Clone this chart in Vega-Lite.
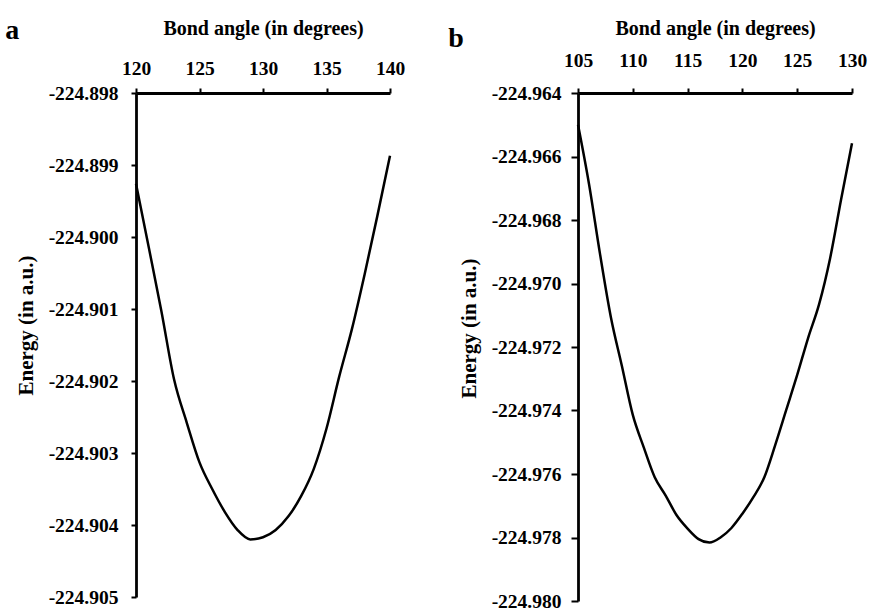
{
  "$schema": "https://vega.github.io/schema/vega-lite/v6.json",
  "background": "white",
  "padding": {"left": 5, "top": 17, "right": 5, "bottom": 0},
  "spacing": 43,
  "config": {
    "view": {"stroke": null},
    "font": "Liberation Serif",
    "axis": {
      "grid": false,
      "domainColor": "black",
      "domainWidth": 2.8,
      "tickColor": "black",
      "tickWidth": 2,
      "tickSize": 6,
      "labelFlush": false,
      "labelOverlap": false,
      "labelFont": "Liberation Serif",
      "labelFontWeight": "bold",
      "labelFontSize": 19.5,
      "labelColor": "black",
      "titleFont": "Liberation Serif",
      "titleFontWeight": "bold",
      "titleFontSize": 20,
      "titleColor": "black"
    },
    "title": {"font": "Liberation Serif", "fontSize": 28, "fontWeight": "bold", "color": "black"}
  },
  "hconcat": [
    {
      "title": {"text": "a", "anchor": "start", "frame": "bounds", "offset": -27, "dx": -10},
      "width": 254,
      "height": 504,
      "data": {"values": [
        {"angle": 120, "energy": -224.89926},
        {"angle": 121, "energy": -224.90014},
        {"angle": 122, "energy": -224.90103},
        {"angle": 123, "energy": -224.90198},
        {"angle": 124, "energy": -224.90258},
        {"angle": 125, "energy": -224.90313},
        {"angle": 126, "energy": -224.9035},
        {"angle": 127, "energy": -224.90382},
        {"angle": 128, "energy": -224.90407},
        {"angle": 129, "energy": -224.9042},
        {"angle": 130, "energy": -224.90417},
        {"angle": 131, "energy": -224.90407},
        {"angle": 132, "energy": -224.90388},
        {"angle": 133, "energy": -224.9036},
        {"angle": 134, "energy": -224.90322},
        {"angle": 135, "energy": -224.90266},
        {"angle": 136, "energy": -224.90194},
        {"angle": 137, "energy": -224.90128},
        {"angle": 138, "energy": -224.90052},
        {"angle": 139, "energy": -224.89971},
        {"angle": 140, "energy": -224.89887}
      ]},
      "mark": {"type": "line", "color": "black", "strokeWidth": 2.5, "interpolate": "monotone"},
      "encoding": {
        "x": {
          "field": "angle", "type": "quantitative",
          "scale": {"domain": [120, 140], "nice": false, "zero": false},
          "axis": {"orient": "top", "title": "Bond angle (in degrees)", "values": [120, 125, 130, 135, 140], "tickSize": 5, "labelPadding": 10, "titlePadding": 20}
        },
        "y": {
          "field": "energy", "type": "quantitative",
          "scale": {"domain": [-224.905, -224.898], "nice": false, "zero": false},
          "axis": {
            "title": "Energy (in a.u.)",
            "titleFontSize": 21,
            "values": [-224.905, -224.904, -224.903, -224.902, -224.901, -224.9, -224.899, -224.898],
            "labelExpr": "replace(format(datum.value, '.3f'), '\u2212', '-')",
            "tickSize": 5, "labelPadding": 13, "titlePadding": 12, "titleY": 232
          }
        }
      }
    },
    {
      "title": {"text": "b", "anchor": "start", "frame": "bounds", "offset": -35, "dx": -10},
      "width": 274,
      "height": 508,
      "data": {"values": [
        {"angle": 105, "energy": -224.965},
        {"angle": 106, "energy": -224.96686},
        {"angle": 107, "energy": -224.96905},
        {"angle": 108, "energy": -224.97106},
        {"angle": 109, "energy": -224.97259},
        {"angle": 110, "energy": -224.97414},
        {"angle": 111, "energy": -224.97516},
        {"angle": 112, "energy": -224.9761},
        {"angle": 113, "energy": -224.97668},
        {"angle": 114, "energy": -224.9773},
        {"angle": 115, "energy": -224.97772},
        {"angle": 116, "energy": -224.97805},
        {"angle": 117, "energy": -224.97816},
        {"angle": 118, "energy": -224.978},
        {"angle": 119, "energy": -224.9777},
        {"angle": 120, "energy": -224.97725},
        {"angle": 121, "energy": -224.97673},
        {"angle": 122, "energy": -224.9761},
        {"angle": 123, "energy": -224.97508},
        {"angle": 124, "energy": -224.97398},
        {"angle": 125, "energy": -224.97288},
        {"angle": 126, "energy": -224.97171},
        {"angle": 127, "energy": -224.97065},
        {"angle": 128, "energy": -224.96921},
        {"angle": 129, "energy": -224.96736},
        {"angle": 130, "energy": -224.96558}
      ]},
      "mark": {"type": "line", "color": "black", "strokeWidth": 2.5, "interpolate": "monotone"},
      "encoding": {
        "x": {
          "field": "angle", "type": "quantitative",
          "scale": {"domain": [105, 130], "nice": false, "zero": false},
          "axis": {"orient": "top", "title": "Bond angle (in degrees)", "values": [105, 110, 115, 120, 125, 130], "tickSize": 5, "labelPadding": 18, "titlePadding": 12}
        },
        "y": {
          "field": "energy", "type": "quantitative",
          "scale": {"domain": [-224.98, -224.964], "nice": false, "zero": false},
          "axis": {
            "title": "Energy (in a.u.)",
            "titleFontSize": 21,
            "values": [-224.98, -224.978, -224.976, -224.974, -224.972, -224.97, -224.968, -224.966, -224.964],
            "labelExpr": "replace(format(datum.value, '.3f'), '\u2212', '-')",
            "tickSize": 7, "labelPadding": 10, "titlePadding": 12, "titleY": 235
          }
        }
      }
    }
  ]
}
